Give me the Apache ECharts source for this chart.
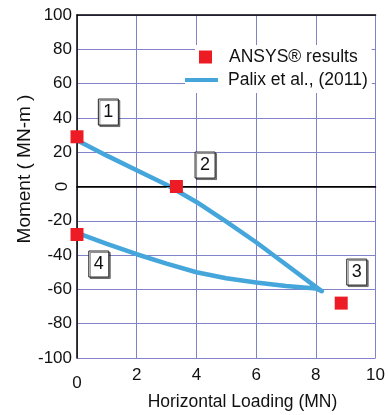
<!DOCTYPE html>
<html><head><meta charset="utf-8">
<script src="https://cdn.jsdelivr.net/npm/echarts@6/dist/echarts.min.js"></script>
<style>html,body{margin:0;padding:0;background:#fff}#c{width:388px;height:415px}</style>
</head><body><div id="c"></div>
<script>
// ANSYS results (Horizontal loading MN, Moment MN-m)
const ansysX = [0, 3.33, 8.85, 0];
const ansysY = [29, 0, -68, -28];
// Palix et al. (2011) curve: upper branch then lower branch back
const palixX = [0, 1, 2, 3, 4, 5, 6, 7, 8, 8.2, 8, 7, 6, 5, 4, 3, 2, 1, 0];
const palixY = [27, 18, 9.5, 1, -9, -20.5, -32.5, -45.5, -58.5, -61, -59.5, -58, -56, -53.5, -50, -45, -39.5, -33.5, -27];
const xTicks = [0, 2, 4, 6, 8, 10];
const yTicks = [-100, -80, -60, -40, -20, 0, 20, 40, 60, 80, 100];
const labels = ['1', '2', '3', '4'];
const labelX = [1.05, 4.29, 9.37, 0.73];
const labelY = [43.4, 12.5, -49.9, -45.2];

const FONT = '"Liberation Sans", Arial, sans-serif';
const chart = echarts.init(document.getElementById('c'), null, {renderer: 'canvas'});
const gridColor = '#8282c8';
const option = {
  animation: false,
  backgroundColor: '#fff',
  grid: {left: 77, right: 10, top: 15, bottom: 57, containLabel: false},
  xAxis: [{
    type: 'value', min: xTicks[0], max: xTicks[xTicks.length - 1], interval: 2,
    axisLine: {show: true, lineStyle: {color: '#000', width: 1.5}},
    axisTick: {show: false},
    splitLine: {show: true, lineStyle: {color: gridColor, width: 1}},
    axisLabel: {
      margin: 9, color: '#111', fontSize: 17, fontFamily: FONT,
      formatter: v => v === 0 ? '{z|0}' : String(v),
      rich: {z: {fontSize: 17, fontFamily: FONT, color: '#111', padding: [8, 0, 0, 0]}}
    }
  }, {
    type: 'value', position: 'top', min: 0, max: 10,
    axisLine: {show: true, lineStyle: {color: '#000', width: 1.5}},
    axisTick: {show: false}, axisLabel: {show: false}, splitLine: {show: false}
  }],
  yAxis: {
    type: 'value', min: yTicks[0], max: yTicks[yTicks.length - 1], interval: 20,
    axisLine: {show: true, lineStyle: {color: '#000', width: 1.5}},
    axisTick: {show: false},
    splitLine: {show: true, lineStyle: {color: gridColor, width: 1}},
    axisLabel: {
      margin: 5, color: '#111', fontSize: 17, fontFamily: FONT,
      formatter: v => v === 0 ? '' : String(v)
    }
  },
  legend: [{
    data: [{name: 'ANSYS® results', icon: 'rect'}],
    left: 195, top: 45, orient: 'vertical',
    itemWidth: 13, itemHeight: 13,
    padding: [2, 14, 3, 4],
    backgroundColor: '#fff',
    textStyle: {fontSize: 17.5, fontFamily: FONT, color: '#111', lineHeight: 20, padding: [0, 0, 0, 12]}
  }, {
    data: [{name: 'Palix et al., (2011)', icon: 'rect'}],
    left: 185, top: 70, orient: 'vertical',
    itemWidth: 33, itemHeight: 4,
    padding: [0, 4, 3, 0],
    backgroundColor: '#fff',
    textStyle: {fontSize: 17.5, fontFamily: FONT, color: '#111', lineHeight: 20, padding: [0, 0, 0, 5]}
  }],
  series: [{
    name: 'Palix et al., (2011)', type: 'line',
    data: palixX.map((x, i) => [x, palixY[i]]),
    showSymbol: false, symbol: 'none', smooth: false,
    lineStyle: {color: '#45a6dc', width: 4.5, cap: 'round', join: 'round'},
    itemStyle: {color: '#45a6dc'},
    z: 3,
    markLine: {
      silent: true, symbol: 'none', label: {show: false},
      lineStyle: {color: '#000', width: 1.2, type: 'solid'},
      data: [{yAxis: 0}]
    }
  }, {
    name: 'ANSYS® results', type: 'scatter',
    data: ansysX.map((x, i) => [x, ansysY[i]]),
    symbol: 'rect', symbolSize: 13,
    itemStyle: {color: '#ed1c24', opacity: 1},
    z: 5
  }]
};
chart.setOption(option);

function buildGraphics() {
  const g = [];
  labels.forEach((t, i) => {
    const p = chart.convertToPixel({xAxisIndex: 0, yAxisIndex: 0}, [labelX[i], labelY[i]]);
    g.push({
      type: 'rect', shape: {x: p[0] - 10, y: p[1] - 13, width: 20, height: 26},
      style: {fill: '#fff', stroke: '#222', lineWidth: 1, shadowColor: 'rgba(0,0,0,0.45)', shadowOffsetX: 1.5, shadowOffsetY: 1.5, shadowBlur: 0},
      z: 10
    });
    g.push({
      type: 'text', x: p[0], y: p[1],
      style: {text: t, fontSize: 18, fontFamily: FONT, fill: '#111', align: 'center', verticalAlign: 'middle'},
      z: 11
    });
  });
  const z0 = chart.convertToPixel({yAxisIndex: 0}, 0);
  g.push({
    type: 'text', x: 62, y: z0, rotation: Math.PI / 2,
    style: {text: '0', fontSize: 17, fontFamily: FONT, fill: '#111', align: 'center', verticalAlign: 'middle'}
  });
  g.push({
    type: 'text', x: 25, y: 169, rotation: Math.PI / 2,
    style: {text: 'Moment ( MN-m )', fontSize: 19, fontFamily: FONT, fill: '#111', align: 'center', verticalAlign: 'middle'}
  });
  g.push({
    type: 'text', x: 242.5, y: 402,
    style: {text: 'Horizontal Loading (MN)', fontSize: 17.5, fontFamily: FONT, fill: '#111', align: 'center', verticalAlign: 'middle'}
  });
  chart.setOption({graphic: g});
}
buildGraphics();
</script>
</body></html>
